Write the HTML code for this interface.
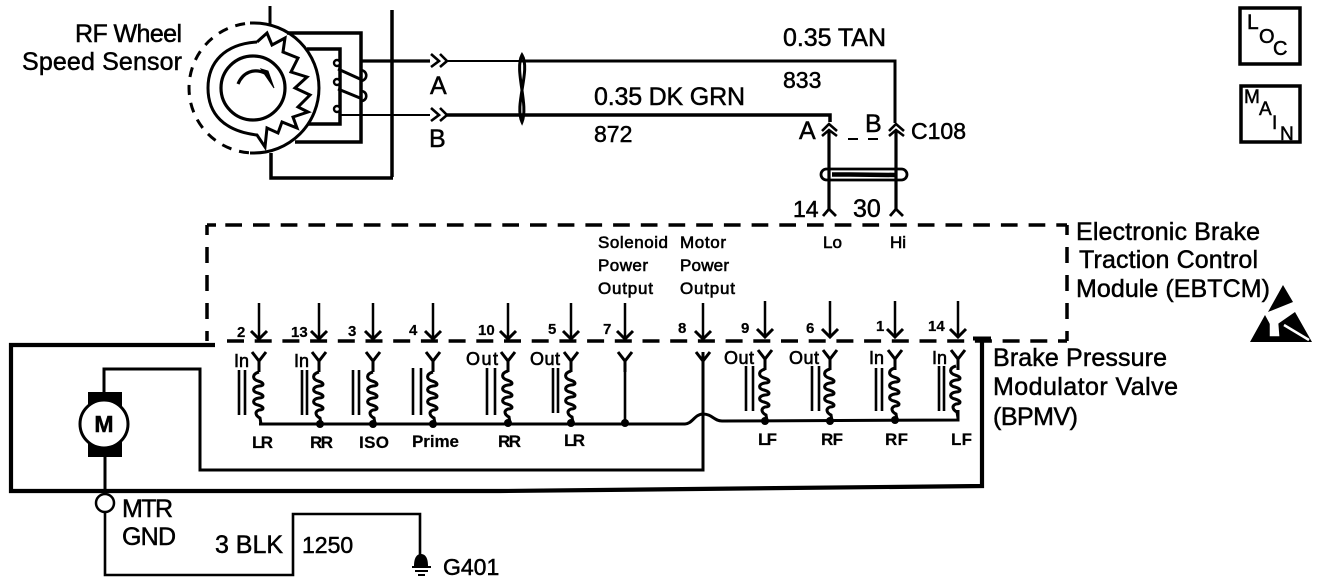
<!DOCTYPE html>
<html><head><meta charset="utf-8"><style>
html,body{margin:0;padding:0;background:#fff}
svg{display:block}
text{font-family:"Liberation Sans",sans-serif;fill:#000;stroke:#000;stroke-width:.5}
.l{font-size:25px}.k{font-size:23px}.m{font-size:18px;stroke-width:.6}.s{font-size:17px;font-weight:bold;stroke-width:.2}
.n{font-size:15px;font-weight:bold;stroke-width:.2}.t{font-size:17px;stroke-width:.6}
</style></head><body>
<svg width="1344" height="586" viewBox="0 0 1344 586" xmlns="http://www.w3.org/2000/svg">
<defs>
<g id="pin" fill="none" stroke="#000">
<path d="M0 303V339" stroke-width="2.5"/>
<path d="M-8 331L0 339L8 331" stroke-width="3"/>
<path d="M-7 352L0 361L7 352" stroke-width="3"/>
<path d="M0 361V372" stroke-width="3"/>
</g>
<g id="coil" fill="none" stroke="#000" stroke-width="3">
<path d="M0 372C-7 374-7 379-1 381C6 383 5 386 0 386C-7 387-7 392-1 393C6 395 5 398 0 398C-7 399-7 404-1 405C6 407 5 410 0 410C-5 412-3 416 1 418L2 424"/>
</g>
</defs>
<rect width="1344" height="586" fill="#fff"/>

<!-- wheel sensor -->
<g fill="none" stroke="#000">
<path d="M250 23H254A65 65 0 0 1 254 153H250" stroke-width="3"/>
<path d="M254 23A65 65 0 0 0 254 153" stroke-width="3" stroke-dasharray="10 8" stroke-dashoffset="9"/>
<circle cx="253" cy="88" r="32" stroke-width="3.2"/>
<path d="M257 42C225 44 208 62 208 88C208 114 224 131 257 135L265 147L267 128L278 133L282 122L297 128L293 117L308 112L298 107L310 95L295 88L307 77L291 72L298 58L283 52L285 38L272 45L267 33L257 42" stroke-width="3"/>
<path d="M238 84C243 72 254 68 265 73" stroke-width="3.2"/>
<path d="M261 69L268 71L274 88Z" fill="#000" stroke="#000"/>
<path d="M270 6V25" stroke-width="3"/>
<path d="M392 10V177" stroke-width="3.5"/>
<path d="M271 153V178H393" stroke-width="3.5"/>
<path d="M287 33H361V142H295" stroke-width="3.5"/>
<path d="M307 49H340V124H308" stroke-width="3.5"/>
<path d="M362 61H430" stroke-width="3.2"/>
<path d="M340 115H430" stroke-width="2"/>
<circle cx="337" cy="63" r="3" stroke-width="2.4" fill="#fff"/>
<circle cx="337" cy="82" r="3" stroke-width="2.4" fill="#fff"/>
<circle cx="337" cy="109" r="3" stroke-width="2.4" fill="#fff"/>
<path d="M338 69L360 79M338 89L360 98" stroke-width="3"/>
<path d="M361 70C368 71 368 80 361 81M361 91C368 91 368 101 361 101" stroke-width="2.6"/>
<path d="M431 54L439 61L431 67M440 54L447 61L440 67" stroke-width="2.6"/>
<path d="M431 108L439 115L431 121M440 108L447 115L440 121" stroke-width="2.6"/>
<path d="M447 61H520" stroke-width="2"/>
<path d="M520 61H895V123" stroke-width="3"/>
<path d="M447 115H830V122" stroke-width="3.5"/>
<path d="M522 55C531 70 514 105 522 122C529 105 514 70 522 55Z" stroke-width="3"/>
<path d="M829 130V211M896 130V211" stroke-width="3.2"/>
<path d="M822 131L829 124L837 131M822 136L829 130L837 136" stroke-width="2.6"/>
<path d="M889 131L896 124L904 131M889 136L896 130L904 136" stroke-width="2.6"/>
<path d="M848 139H858M868 139H878" stroke-width="2"/>
<rect x="821" y="169" width="86" height="11" rx="5.5" stroke-width="2.8"/>
<path d="M832 174.5H850L895 175" stroke-width="4.5"/>
<path d="M823 216L829 209L836 216M890 216L896 209L903 216" stroke-width="2.8"/>

<!-- module dashed box -->
<path d="M207 225H216" stroke-width="3.5"/>
<path d="M225.3 225H1067" stroke-width="3.5" stroke-dasharray="16.7 11"/>
<path d="M227 341H1067" stroke-width="3.5" stroke-dasharray="17 10.7"/>
<path d="M1067 225V341" stroke-width="3.5" stroke-dasharray="16 12" stroke-dashoffset="6"/>
<path d="M207 225V341" stroke-width="3.5" stroke-dasharray="16 12" stroke-dashoffset="6"/>

<!-- main power -->
<path d="M215 345H11V491H500L982 486V339" stroke-width="4.2"/>
<path d="M973 338.500H991" stroke-width="4"/>
<path d="M104 392V369H200V470H703V352" stroke-width="3"/>
<path d="M105 457V492" stroke-width="3"/>
<circle cx="105" cy="503" r="9" stroke-width="2.5"/>
<path d="M105 512V575H293V514H420V555" stroke-width="2.6"/>
<path d="M259 424H685C692 424 695 414 703 414C712 414 714 421 722 421L958 420V410" stroke-width="3"/>
<path d="M625 361V423" stroke-width="2.6"/>
<path d="M239 370V415M245 370V415M302 370V415M307 370V415M353 370V415M359 370V415M413 368V415M421 368V415M487 368V415M495 368V415M553 368V413M558 368V413M746 366V411M753 366V411M812 366V411M819 366V411M876 368V411M882 368V411M939 366V411M944 366V411" stroke-width="2.6"/>
</g>
<rect x="88" y="392" width="34" height="16"/>
<rect x="88" y="441" width="34" height="16"/>
<circle cx="104" cy="424" r="24" fill="#fff" stroke="#000" stroke-width="3"/>

<use href="#pin" x="259" y="0"/><use href="#pin" x="319" y="0"/><use href="#pin" x="373" y="0"/><use href="#pin" x="433" y="0"/>
<use href="#pin" x="508" y="0"/><use href="#pin" x="571" y="0"/><use href="#pin" x="625" y="0"/><use href="#pin" x="703" y="0"/>
<use href="#pin" x="765" y="-2"/><use href="#pin" x="830" y="-2"/><use href="#pin" x="895" y="-2"/><use href="#pin" x="958" y="-2"/>
<use href="#coil" x="259" y="0"/><use href="#coil" x="319" y="0"/><use href="#coil" x="373" y="0"/><use href="#coil" x="433" y="0"/>
<use href="#coil" x="508" y="-1"/><use href="#coil" x="571" y="-1"/>
<use href="#coil" x="765" y="-3"/><use href="#coil" x="830" y="-3"/><use href="#coil" x="895" y="-4"/><use href="#coil" x="956" y="-6"/>
<g>
<circle cx="320" cy="424" r="4"/><circle cx="373" cy="424" r="4"/><circle cx="433" cy="424" r="4"/><circle cx="508" cy="423" r="4"/><circle cx="571" cy="423" r="4"/><circle cx="625" cy="423" r="4"/><circle cx="765" cy="421" r="4"/><circle cx="830" cy="421" r="4"/><circle cx="895" cy="420" r="4"/>
</g>
<!-- ground -->
<path d="M414 566C414 556 418 554 421 554C424 554 428 556 428 566Z"/>
<path d="M412 567H431M415 571H428M418 575H425" stroke="#000" stroke-width="2"/>

<!-- LOC / MAIN -->
<g fill="none" stroke="#000" stroke-width="3.5"><rect x="1240" y="8" width="60" height="56"/><rect x="1241" y="86" width="59" height="56"/></g>
<text x="1247" y="29" font-size="21">L</text><text x="1259" y="43" font-size="20">O</text><text x="1273" y="55" font-size="20">C</text>
<text x="1244" y="103" font-size="19">M</text><text x="1259" y="115" font-size="19">A</text><text x="1272" y="129" font-size="19">I</text><text x="1280" y="140" font-size="19">N</text>

<!-- ESD -->
<path d="M1283 285L1293 302L1268 312Z"/>
<path d="M1250 342L1265 315L1272 328L1295 312L1312 342Z"/>
<path d="M1271 324L1277 322L1278 335L1271 335ZM1284 325L1309 340" stroke="#fff" stroke-width="2.5" fill="#fff"/>

<!-- labels -->
<text class="l" x="75" y="42" textLength="107">RF Wheel</text>
<text class="l" x="22" y="70" textLength="160">Speed Sensor</text>
<text class="l" x="430" y="94">A</text><text class="l" x="429" y="147">B</text>
<text class="l" x="783" y="46" textLength="103">0.35 TAN</text>
<text class="k" x="783" y="88">833</text>
<text class="l" x="594" y="105" textLength="151">0.35 DK GRN</text>
<text class="k" x="594" y="142">872</text>
<text class="l" x="799" y="139">A</text><text class="l" x="865" y="132">B</text>
<text class="k" x="911" y="139">C108</text>
<text class="k" x="793" y="217">14</text><text class="l" x="853" y="217">30</text>
<text class="t" x="823" y="248">Lo</text><text class="t" x="890" y="248">Hi</text>
<text class="l" x="1076" y="240" textLength="184">Electronic Brake</text>
<text class="l" x="1079" y="268" textLength="179">Traction Control</text>
<text class="l" x="1076" y="297" textLength="194">Module (EBTCM)</text>
<text class="l" x="993" y="366" textLength="174">Brake Pressure</text>
<text class="l" x="993" y="395" textLength="185">Modulator Valve</text>
<text class="l" x="993" y="425" textLength="85">(BPMV)</text>
<text class="t" x="598" y="248" textLength="70">Solenoid</text><text class="t" x="598" y="271" textLength="50">Power</text><text class="t" x="598" y="294" textLength="55">Output</text>
<text class="t" x="680" y="248" textLength="46">Motor</text><text class="t" x="680" y="271" textLength="49">Power</text><text class="t" x="680" y="294" textLength="55">Output</text>
<text class="n" x="237" y="337">2</text><text class="n" x="291" y="337">13</text><text class="n" x="348" y="336">3</text><text class="n" x="409" y="335">4</text><text class="n" x="478" y="335">10</text><text class="n" x="548" y="334">5</text><text class="n" x="603" y="334">7</text><text class="n" x="678" y="333">8</text><text class="n" x="741" y="333">9</text><text class="n" x="806" y="333">6</text><text class="n" x="876" y="331">1</text><text class="n" x="928" y="331">14</text>
<text class="m" x="234" y="367">In</text><text class="m" x="294" y="367">In</text><text class="m" x="466" y="365" textLength="32">Out</text><text class="m" x="530" y="365" textLength="30">Out</text><text class="m" x="724" y="364" textLength="30">Out</text><text class="m" x="789" y="364" textLength="30">Out</text><text class="m" x="869" y="364">In</text><text class="m" x="932" y="364">In</text>
<text class="s" x="252" y="448" textLength="21">LR</text><text class="s" x="310" y="448" textLength="23">RR</text><text class="s" x="359" y="448" textLength="30">ISO</text><text class="s" x="412" y="447" textLength="47">Prime</text><text class="s" x="498" y="447" textLength="23">RR</text><text class="s" x="564" y="446" textLength="21">LR</text><text class="s" x="758" y="445" textLength="19">LF</text><text class="s" x="821" y="445" textLength="22">RF</text><text class="s" x="885" y="445" textLength="23">RF</text><text class="s" x="951" y="445" textLength="21">LF</text>
<text class="l" x="122" y="517" textLength="51">MTR</text><text class="l" x="122" y="545" textLength="54">GND</text>
<text class="l" x="215" y="553" textLength="68">3 BLK</text><text class="k" x="302" y="553">1250</text>
<text class="k" x="443" y="575">G401</text>
<text x="104" y="432" font-size="23" font-weight="bold" text-anchor="middle">M</text>
</svg>
</body></html>
